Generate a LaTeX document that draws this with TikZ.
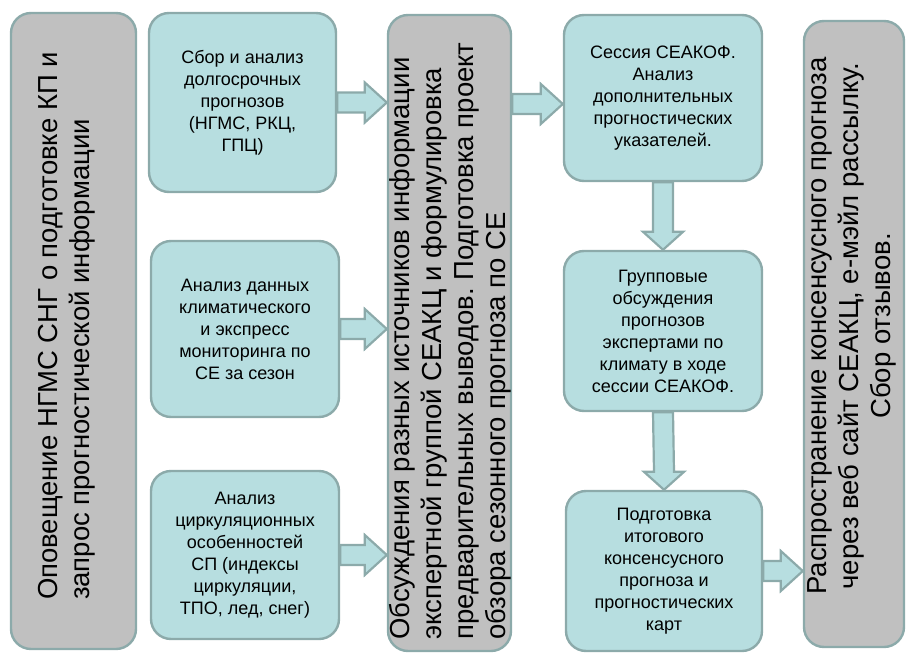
\documentclass[tikz,border=0pt]{standalone}
\usepackage{fontspec}
\setmainfont{Liberation Sans}
\frenchspacing
\usetikzlibrary{calc}

\definecolor{boxteal}{HTML}{B7DEE0}
\definecolor{boxgray}{HTML}{C0C0C0}
\definecolor{edgeteal}{HTML}{8CAAAA}

\tikzset{
  stepbox/.style={draw=edgeteal, line width=2.4pt, fill=boxteal, rounded corners=20pt,
    align=center, inner sep=0pt, font=\fontsize{18}{22}\selectfont},
  sidebox/.style={draw=edgeteal, line width=2.4pt, fill=boxgray, rounded corners=20pt, inner sep=0pt},
  sidetext/.style={rotate=90, inner sep=0pt, font=\fontsize{27.5}{32}\selectfont},
  harrow/.style={draw=edgeteal, line width=2.2pt, fill=boxteal, line join=miter,
    to path={($(\tikztostart)+(0,10pt)$) -- ($(\tikztotarget)+(-22pt,10pt)$)
      -- ($(\tikztotarget)+(-22pt,20pt)$) -- (\tikztotarget)
      -- ($(\tikztotarget)+(-22pt,-20pt)$) -- ($(\tikztotarget)+(-22pt,-10pt)$)
      -- ($(\tikztostart)+(0,-10pt)$) -- cycle}},
  varrow/.style={draw=edgeteal, line width=2.2pt, fill=boxteal, line join=miter,
    to path={($(\tikztostart)+(-10pt,0)$) -- ($(\tikztotarget)+(-10pt,18pt)$)
      -- ($(\tikztotarget)+(-20pt,18pt)$) -- (\tikztotarget)
      -- ($(\tikztotarget)+(20pt,18pt)$) -- ($(\tikztotarget)+(10pt,18pt)$)
      -- ($(\tikztostart)+(10pt,0)$) -- cycle}}
}

\begin{document}
\begin{tikzpicture}[x=1pt, y=-1pt]
  \useasboundingbox (0,0) rectangle (915,655);

  % Gray side boxes
  \node[sidebox, minimum width=125pt, minimum height=636pt] (notify) at (73.5,331) {};
  \node[sidetext, align=left] (notify-txt) at (67,326)
    {Оповещение НГМС СНГ о подготовке КП и\\ запрос прогностической информации};

  \node[sidebox, minimum width=123pt, minimum height=636pt] (discuss) at (449.5,333) {};
  \node[sidetext, align=left] (discuss-txt) at (450,341)
    {Обсуждения разных источников информации\\ экспертной группой СЕАКЦ и формулировка\\
     предварительных выводов. Подготовка проект\\ обзора сезонного прогноза по СЕ};

  \node[sidebox, minimum width=100pt, minimum height=626pt] (spread) at (854,334) {};
  \node[sidetext, align=center] (spread-txt) at (852,326)
    {Распространение консенсусного прогноза\\ через веб сайт СЕАКЦ, е-мэйл рассылку.\\ Сбор отзывов.};

  % Input boxes
  \node[stepbox, minimum width=187pt, minimum height=179pt] (collect) at (242.5,102.5)
    {Сбор и анализ\\ долгосрочных\\ прогнозов\\ (НГМС, РКЦ,\\ ГПЦ)};
  \node[stepbox, minimum width=188pt, minimum height=176pt] (monitor) at (245,329)
    {Анализ данных\\ климатического\\ и экспресс\\ мониторинга по\\ СЕ за сезон};
  \node[stepbox, minimum width=188pt, minimum height=168pt] (circul) at (245,555)
    {Анализ\\ циркуляционных\\ особенностей\\ СП (индексы\\ циркуляции,\\ ТПО, лед, снег)};

  % Session boxes
  \node[stepbox, minimum width=198pt, minimum height=166pt] (session) at (663,98)
    {Сессия СЕАКОФ.\\ Анализ\\ дополнительных\\ прогностических\\ указателей.};
  \node[stepbox, minimum width=198pt, minimum height=160pt] (group) at (663,331)
    {Групповые\\ обсуждения\\ прогнозов\\ экспертами по\\ климату в ходе\\ сессии СЕАКОФ.};
  \node[stepbox, minimum width=196pt, minimum height=160pt] (final) at (664,571)
    {Подготовка\\ итогового\\ консенсусного\\ прогноза и\\ прогностических\\ карт};

  % Block arrows
  \draw[harrow] (collect.east) to (collect.east -| discuss.west);
  \draw[harrow] (monitor.east) to (monitor.east -| discuss.west);
  \draw[harrow] (circul.east) to (circul.east -| discuss.west);
  \draw[harrow] ($(discuss.east |- session.west)+(0,6)$) to ($(session.west)+(0,6)$);
  \draw[varrow] (session.south) to (group.north);
  \draw[varrow] (group.south) to (final.north);
  \draw[harrow] (final.east) to (final.east -| spread.west);
\end{tikzpicture}
\end{document}
